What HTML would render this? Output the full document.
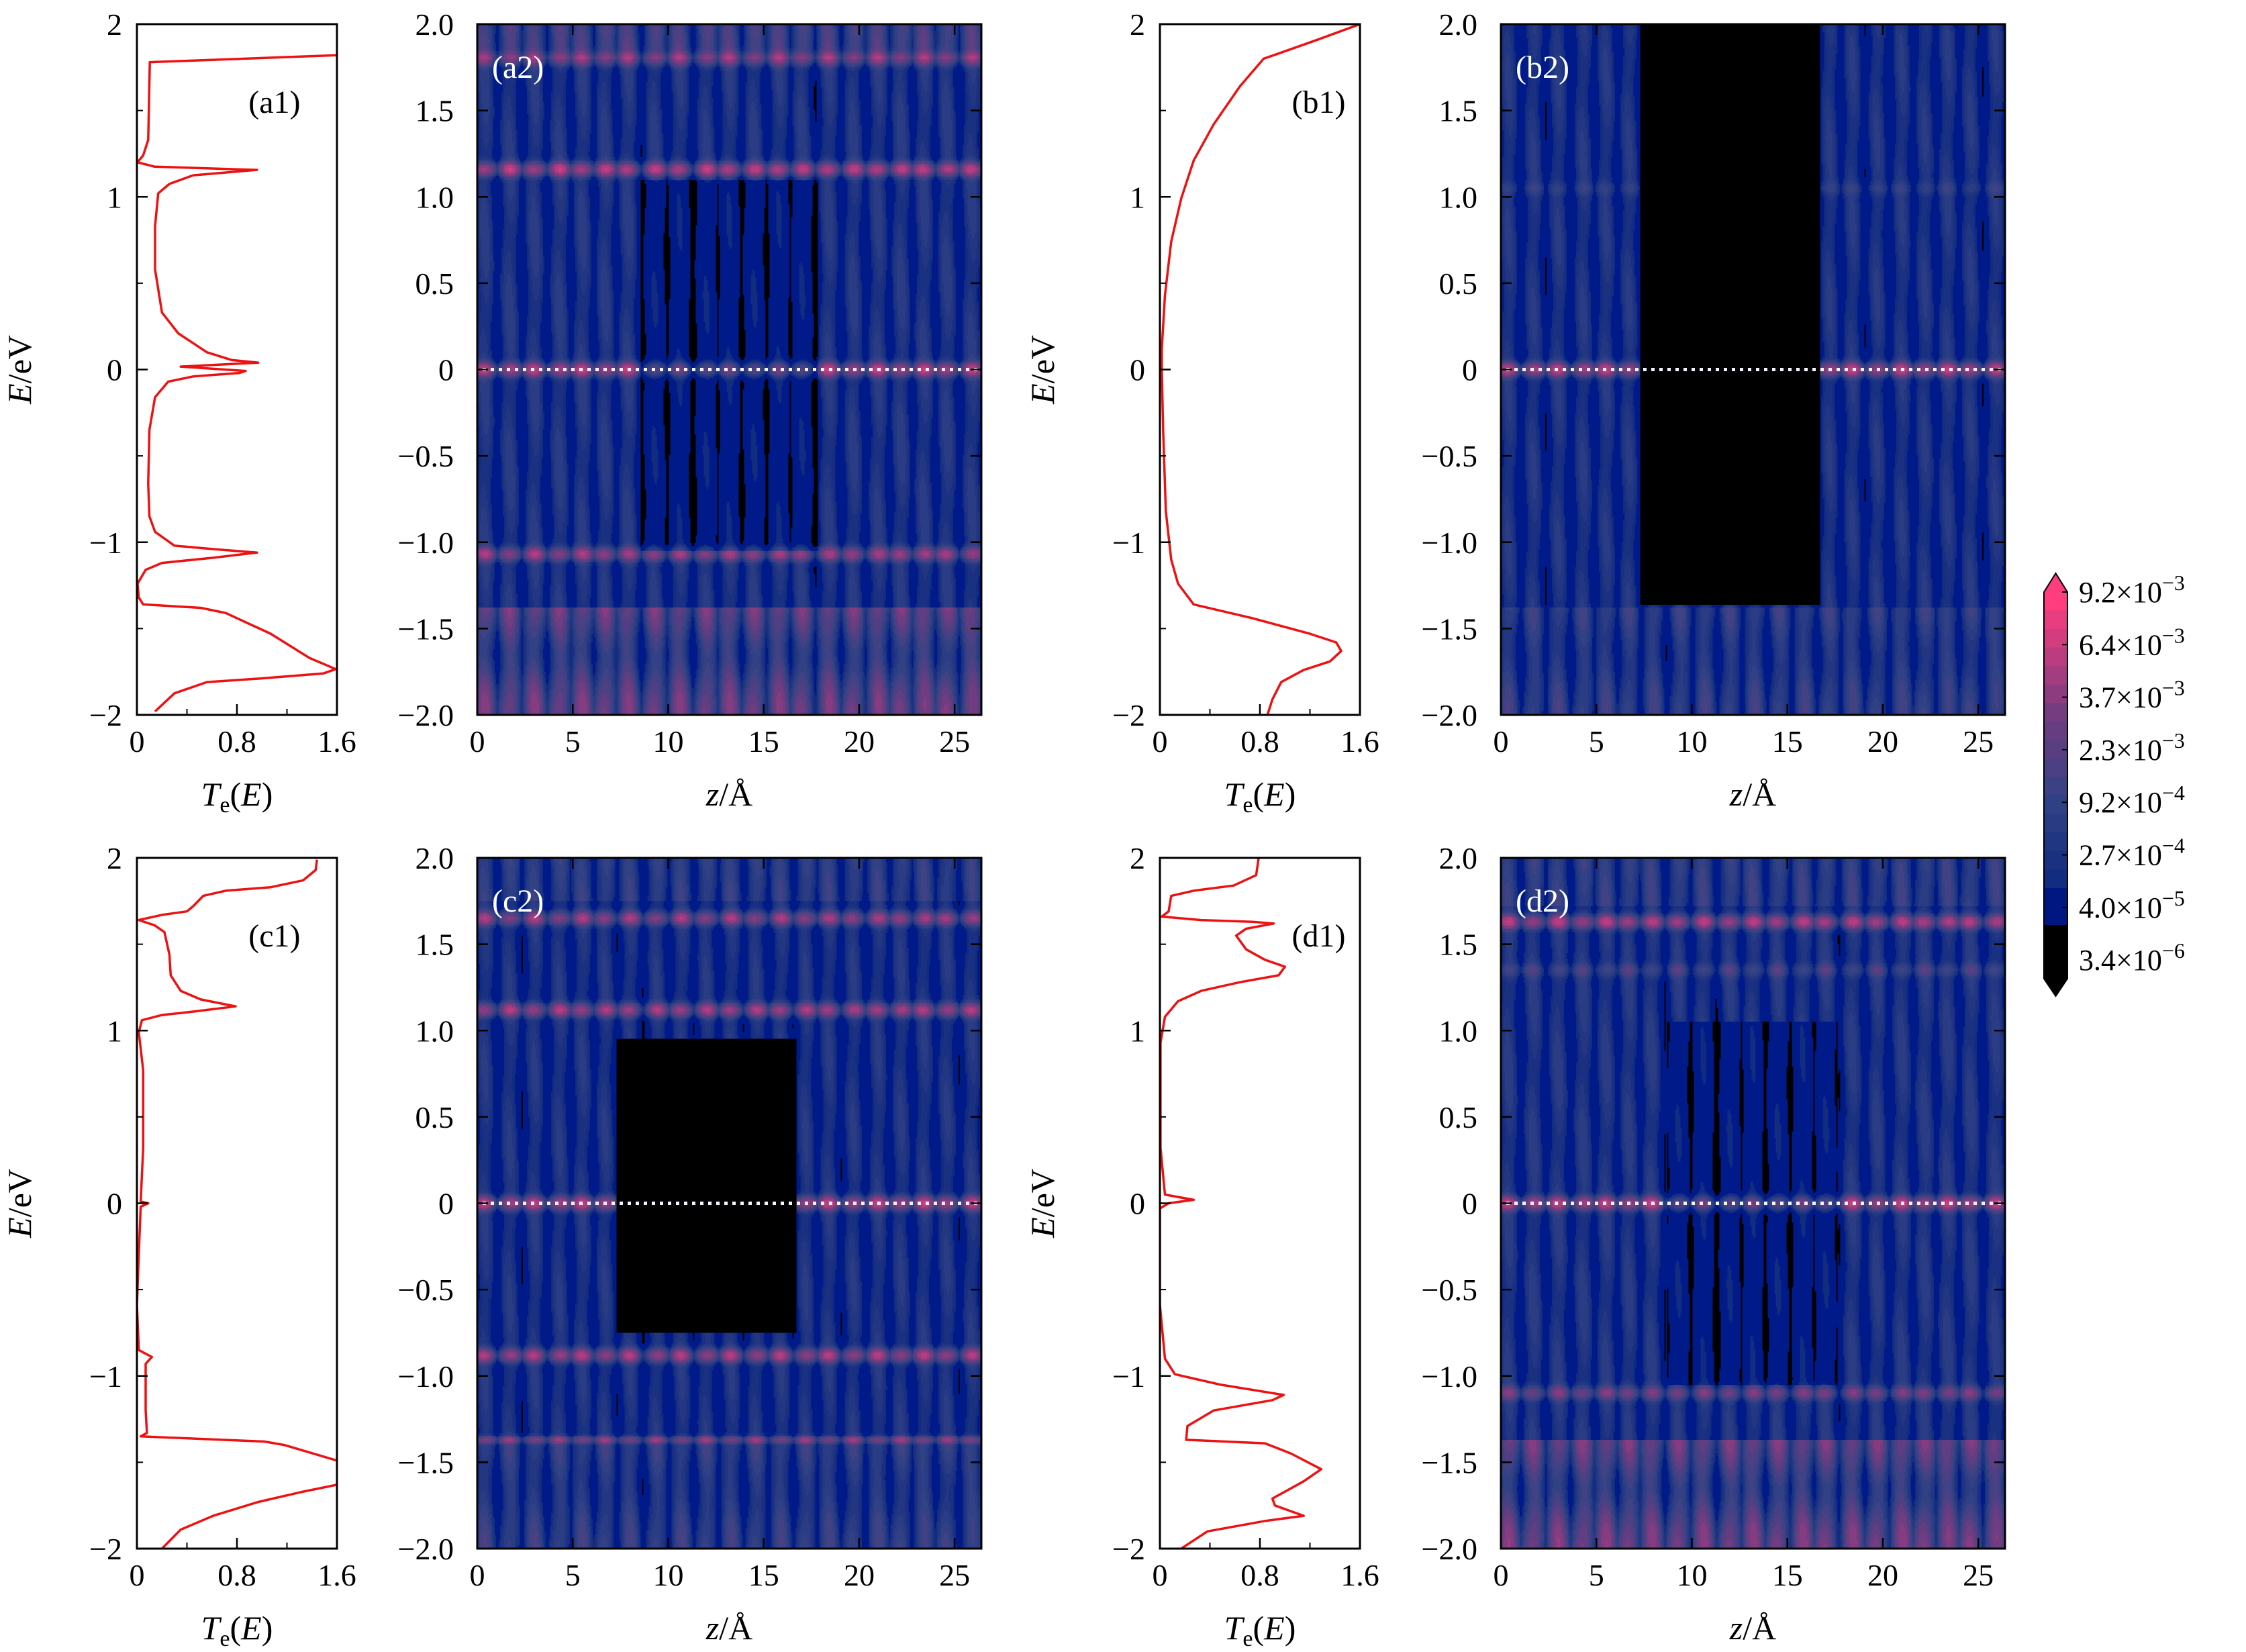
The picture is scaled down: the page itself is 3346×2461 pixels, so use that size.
<!DOCTYPE html>
<html><head><meta charset="utf-8">
<style>
body{margin:0;background:#fff;}
#root{position:relative;width:3346px;height:2461px;overflow:hidden;background:#fff;}
canvas{position:absolute;}
svg{position:absolute;left:0;top:0;}
text{font-family:"Liberation Serif",serif;fill:#000;}
</style></head>
<body>
<div id="root">
<canvas id="hm-a"></canvas>
<canvas id="hm-b"></canvas>
<canvas id="hm-c"></canvas>
<canvas id="hm-d"></canvas>
<svg id="ov" width="3346" height="2461"></svg>
</div>
<script>
// ---------- transmission curves (T, E) ----------
const curveA_T=[1.6,.103,.09,.05,.005,.14,.96,.45,.26,.17,.145,.145,.2,.33,.56,.76,.97,.35,.87,.82,.45,.25,.145,.1,.09,.1,.145,.3,.61,.96,.61,.2,.07,.005,.015,.05,.51,.71,1.07,1.38,1.59,1.49,.97,.56,.3,.145];
const curveA_E=[1.82,1.78,1.33,1.24,1.2,1.175,1.156,1.125,1.075,1.02,.83,.58,.33,.21,.1,.055,.04,.017,-.008,-.02,-.04,-.07,-.16,-.35,-.66,-.85,-.94,-1.02,-1.04,-1.06,-1.09,-1.12,-1.16,-1.24,-1.32,-1.36,-1.38,-1.41,-1.53,-1.67,-1.735,-1.76,-1.79,-1.81,-1.875,-1.98];
const curveB_T=[1.6,1.26,.95,.83,.64,.43,.27,.17,.09,.04,.015,.015,.026,.047,.09,.145,.27,.74,1.2,1.41,1.45,1.36,1.15,.97,.9,.86];
const curveB_E=[2.0,1.91,1.83,1.8,1.64,1.42,1.21,.99,.74,.43,.12,0,-.35,-.82,-1.1,-1.24,-1.36,-1.44,-1.53,-1.58,-1.63,-1.69,-1.74,-1.81,-1.91,-2.0];
const curveC_T=[1.44,1.43,1.33,1.07,.71,.53,.45,.4,.2,.015,.14,.22,.26,.27,.35,.51,.79,.45,.2,.04,.015,.05,.05,.03,.09,.03,.015,0,.015,.12,.07,.07,.08,.03,1.02,1.18,1.6,1.8,1.6,1.33,.97,.61,.35,.2];
const curveC_E=[1.99,1.93,1.87,1.83,1.81,1.78,1.72,1.69,1.67,1.64,1.61,1.57,1.44,1.32,1.23,1.18,1.14,1.11,1.09,1.06,.99,.77,.32,.01,0,-.02,-.29,-.59,-.85,-.89,-.93,-1.2,-1.33,-1.35,-1.38,-1.4,-1.49,-1.56,-1.63,-1.67,-1.73,-1.81,-1.89,-2.0];
const curveD_T=[.79,.77,.59,.27,.09,.07,.015,.33,.74,.91,.69,.61,.69,.84,1.0,.95,.64,.33,.145,.04,.005,.005,.04,.27,.07,0,0,.04,.12,.48,.99,.9,.43,.22,.21,.84,1.05,1.29,1.15,.9,.92,1.15,.84,.38,.17];
const curveD_E=[2.0,1.9,1.84,1.81,1.78,1.69,1.66,1.64,1.63,1.62,1.59,1.55,1.47,1.41,1.37,1.32,1.28,1.23,1.17,1.08,.93,.32,.05,.02,0,-.03,-.59,-.9,-.99,-1.05,-1.11,-1.14,-1.2,-1.29,-1.37,-1.39,-1.45,-1.54,-1.61,-1.71,-1.75,-1.81,-1.84,-1.9,-2.0];

// ---------- LDOS heatmap model data ----------
const stripesA=[0.4,1.7,3.0,4.3,5.5,6.7,7.9,9.3,10.6,12.0,13.2,14.5,15.8,17.0,18.4,19.7,21.0,22.2,23.4,24.6,25.9];
const stripesB=[0.4,1.7,3.0,4.3,5.5,6.7,8.0,9.4,10.7,12.0,13.3,14.6,15.9,17.2,18.4,19.7,21.0,22.2,23.4,24.6,25.9];
const stripesC=[0.4,1.7,3.0,4.3,5.5,6.7,8.0,9.4,10.7,12.0,13.3,14.6,15.9,17.2,18.4,19.7,21.0,22.2,23.4,24.6,25.9];
const stripesD=[0.4,1.7,3.0,4.3,5.5,6.7,7.9,9.3,10.6,12.0,13.2,14.5,15.8,17.0,18.4,19.7,21.0,22.2,23.4,24.6,25.9];
const bandsA_E=[1.8,1.16,0.0,-1.07];   const bandsA_A=[0.35,0.6,0.6,0.45];
const bandsB_E=[0.0,1.05];             const bandsB_A=[0.6,0.06];
const bandsC_E=[1.65,1.12,0.0,-0.88,-1.37]; const bandsC_A=[0.45,0.5,0.6,0.5,0.4];
const bandsD_E=[1.63,1.35,0.0,-1.1];   const bandsD_A=[0.55,0.12,0.6,0.3];
// [contLoEdge, contLoAmp, contHiEdge, contHiAmp, base]
const levelsA=[-1.38,0.3,1.8,0.12,0.1];
const levelsB=[-1.38,0.08,2.5,0,0.09];
const levelsC=[-1.38,0.08,1.75,0.05,0.09];
const levelsD=[-1.37,0.32,1.72,0.05,0.1];
// barrier [zL,zR,Elo,Ehi,attenuation]
const barrierA=[8.6,17.8,-1.05,1.1,0.45];
const barrierB=[7.3,16.7,-1.36,2.0,0.015];
const barrierC=[7.3,16.7,-0.75,0.95,0.015];
const barrierD=[8.7,17.6,-1.05,1.05,0.45];

// colorbar labels
const cbMant=["9.2","6.4","3.7","2.3","9.2","2.7","4.0","3.4"];
const cbExp=["−3","−3","−3","−3","−4","−4","−5","−6"];

// ---------- layout ----------
const colT=[204,1728], colH=[711,2236], rowY=[36,1278];
const TW=298, HW=751, PH=1029, ZMAX=26.4;
const NS="http://www.w3.org/2000/svg";
const ov=document.getElementById('ov');
function el(tag,attrs,parent){const e=document.createElementNS(NS,tag);for(const k in attrs)e.setAttribute(k,attrs[k]);(parent||ov).appendChild(e);return e;}
function yE(y0,E){return y0+(2-E)/4*PH;}
function fmtNum(v,d){const s=Math.abs(v).toFixed(d);return (v<0?"−":"")+s;}

const palStops=[[0,[18,44,128]],[0.3,[52,66,132]],[0.6,[118,60,128]],[1,[255,61,127]]];
function pal(t){for(let i=1;i<palStops.length;i++){if(t<=palStops[i][0]){const a=palStops[i-1],b=palStops[i];const f=(t-a[0])/(b[0]-a[0]);return a[1].map((c,j)=>Math.round(c+(b[1][j]-c)*f));}}return palStops[palStops.length-1][1];}

function drawHeat(id,x0,y0,stripes,bE,bA,lev,bar){
  const cv=document.getElementById(id);
  const W=Math.round(HW/2),H=Math.round(PH/2);
  cv.width=W;cv.height=H;cv.style.left=x0+'px';cv.style.top=y0+'px';cv.style.width=HW+'px';cv.style.height=PH+'px';
  cv.style.imageRendering='pixelated';
  const ctx=cv.getContext('2d');const img=ctx.createImageData(W,H);
  const sz=[],zz=[];
  for(let i=0;i<W;i++){const z=(i+0.5)/W*ZMAX;zz.push(z);let m=0;for(const s of stripes){const v=Math.exp(-Math.pow((z-s)/0.5,2));if(v>m)m=v;}sz.push(m);}
  const lo=Math.log(0.04);
  for(let j=0;j<H;j++){
    const E=2-(j+0.5)/H*4;
    let e=lev[4];
    for(let k=0;k<bE.length;k++){const w=(Math.abs(bE[k]+1.37)<0.02)?0.018:0.035;e+=bA[k]*Math.exp(-Math.pow((E-bE[k])/w,2));}
    if(E<lev[0])e+=lev[1]*(0.6+0.4*Math.cos((E+2)*9));
    if(E>lev[2])e+=lev[3];
    for(let i=0;i<W;i++){
      let v=sz[i]*e*(0.8+0.2*Math.cos(E*7+zz[i]*2.4));
      const z=zz[i];
      if(z>bar[0]&&z<bar[1]&&E>bar[2]&&E<bar[3])v*=bar[4];
      let r,g,b;
      if(v<0.011){r=0;g=0;b=0;}
      else if(v<0.04){r=0;g=26;b=138;}
      else{let t=(Math.log(v)-lo)/(0-lo);t=Math.min(1,Math.max(0,t));t=Math.floor(t*14)/14;[r,g,b]=pal(t);}
      const p=(j*W+i)*4;img.data[p]=r;img.data[p+1]=g;img.data[p+2]=b;img.data[p+3]=255;
    }
  }
  ctx.putImageData(img,0,0);
}

function tPanel(x0,y0,Ts,Es,label,labT,labE,name){
  const g=el('g',{});
  
  
  const clip=el('clipPath',{id:'clip'+name},g);el('rect',{x:x0,y:y0,width:TW,height:PH},clip);
  let d='';for(let i=0;i<Ts.length;i++){const x=x0+Ts[i]/1.6*TW,y=yE(y0,Es[i]);d+=(i?'L':'M')+x.toFixed(1)+' '+y.toFixed(1);}
  const p=el('path',{d:d,fill:'none',stroke:'#ee1111','stroke-width':3.5,'stroke-linejoin':'round','clip-path':'url(#clip'+name+')'},g);
  
  
  el('rect',{x:x0,y:y0,width:TW,height:PH,fill:'none',stroke:'#000','stroke-width':3},g);
  for(let E=-2;E<=2;E++){const y=yE(y0,E);el('line',{x1:x0,y1:y,x2:x0+16,y2:y,stroke:'#000','stroke-width':2.5},g);
    const t=el('text',{x:x0-22,y:y+16,'font-size':46,'text-anchor':'end'},g);t.textContent=E<0?'−'+(-E):String(E);}
  for(const E of [-1.5,-0.5,0.5,1.5]){const y=yE(y0,E);el('line',{x1:x0,y1:y,x2:x0+9,y2:y,stroke:'#000','stroke-width':2},g);}
  const xt=[0,0.8,1.6],xl=["0","0.8","1.6"];
  xt.forEach((v,i)=>{const x=x0+v/1.6*TW;el('line',{x1:x,y1:y0+PH,x2:x,y2:y0+PH-16,stroke:'#000','stroke-width':2.5},g);
    const t=el('text',{x:x,y:y0+PH+55,'font-size':46,'text-anchor':'middle'},g);t.textContent=xl[i];});
  for(const v of [0.4,1.2]){const x=x0+v/1.6*TW;el('line',{x1:x,y1:y0+PH,x2:x,y2:y0+PH-9,stroke:'#000','stroke-width':2},g);}
  const lt=el('text',{x:x0+labT/1.6*TW,y:yE(y0,labE)+16,'font-size':48,'text-anchor':'middle'},g);lt.textContent=label;
  
  
  const xa=el('text',{x:x0+TW/2,y:y0+PH+135,'font-size':50,'text-anchor':'middle'},g);
  
  
  xa.innerHTML='<tspan font-style="italic">T</tspan><tspan font-size="34" dy="10">e</tspan><tspan dy="-10">(</tspan><tspan font-style="italic">E</tspan>)';
  const ya=el('text',{x:0,y:0,'font-size':50,'text-anchor':'middle',transform:`translate(${x0-158},${y0+PH/2}) rotate(-90)`},g);
  
  
  ya.innerHTML='<tspan font-style="italic">E</tspan>/eV';
}

function hPanel(x0,y0,label,name){
  const g=el('g',{});
  
  
  const y=yE(y0,0);
  el('line',{x1:x0+8,y1:y,x2:x0+HW-4,y2:y,stroke:'#f4f4ff','stroke-width':5,'stroke-dasharray':'5 7'},g);
  el('rect',{x:x0,y:y0,width:HW,height:PH,fill:'none',stroke:'#000','stroke-width':3},g);
  for(let k=0;k<=8;k++){const E=-2+k*0.5;const yy=yE(y0,E);
    el('line',{x1:x0,y1:yy,x2:x0+16,y2:yy,stroke:'#000','stroke-width':2.5},g);
    el('line',{x1:x0+HW,y1:yy,x2:x0+HW-16,y2:yy,stroke:'#000','stroke-width':2.5},g);
    const t=el('text',{x:x0-35,y:yy+16,'font-size':46,'text-anchor':'end'},g);t.textContent=E===0?'0':fmtNum(E,1);}
  for(let z=0;z<=25;z+=5){const x=x0+z/ZMAX*HW;
    el('line',{x1:x,y1:y0+PH,x2:x,y2:y0+PH-16,stroke:'#000','stroke-width':2.5},g);
    el('line',{x1:x,y1:y0,x2:x,y2:y0+16,stroke:'#000','stroke-width':2.5},g);
    const t=el('text',{x:x,y:y0+PH+55,'font-size':46,'text-anchor':'middle'},g);t.textContent=String(z);}
  const lt=el('text',{x:x0+22,y:y0+80,'font-size':48,style:'fill:#fff'},g);lt.textContent=label;
  
  
  const xa=el('text',{x:x0+HW/2,y:y0+PH+135,'font-size':50,'text-anchor':'middle'},g);
  
  
  xa.innerHTML='<tspan font-style="italic">z</tspan>/Å';
}

drawHeat('hm-a',colH[0],rowY[0],stripesA,bandsA_E,bandsA_A,levelsA,barrierA);
drawHeat('hm-b',colH[1],rowY[0],stripesB,bandsB_E,bandsB_A,levelsB,barrierB);
drawHeat('hm-c',colH[0],rowY[1],stripesC,bandsC_E,bandsC_A,levelsC,barrierC);
drawHeat('hm-d',colH[1],rowY[1],stripesD,bandsD_E,bandsD_A,levelsD,barrierD);

tPanel(colT[0],rowY[0],curveA_T,curveA_E,'(a1)',1.1,1.55,'panel-a1');
tPanel(colT[1],rowY[0],curveB_T,curveB_E,'(b1)',1.27,1.55,'panel-b1');
tPanel(colT[0],rowY[1],curveC_T,curveC_E,'(c1)',1.1,1.55,'panel-c1');
tPanel(colT[1],rowY[1],curveD_T,curveD_E,'(d1)',1.27,1.55,'panel-d1');
hPanel(colH[0],rowY[0],'(a2)','panel-a2');
hPanel(colH[1],rowY[0],'(b2)','panel-b2');
hPanel(colH[0],rowY[1],'(c2)','panel-c2');
hPanel(colH[1],rowY[1],'(d2)','panel-d2');

// ---------- colorbar ----------
(function(){
  const g=el('g',{});
  
  
  const x0=3045,x1=3080,yt=882,yb=1458,ybk=1378;
  el('polygon',{points:`${x0},${yt} ${(x0+x1)/2},854 ${x1},${yt}`,fill:'#fd3d7e'},g);
  el('polygon',{points:`${x0},${yb} ${(x0+x1)/2},1484 ${x1},${yb}`,fill:'#000'},g);
  const n=18;
  for(let i=0;i<n;i++){
    const ya=yt+(ybk-yt)*i/n,yb2=yt+(ybk-yt)*(i+1)/n;
    let c;
    if(i>=n-2)c=[0,22,128];else c=pal(1-i/(n-3));
    el('rect',{x:x0,y:ya,width:x1-x0,height:yb2-ya+0.5,fill:`rgb(${c[0]},${c[1]},${c[2]})`},g);
  }
  el('rect',{x:x0,y:ybk,width:x1-x0,height:yb-ybk,fill:'#000'},g);
  el('polygon',{points:`${x0},${yt} ${(x0+x1)/2},854 ${x1},${yt} ${x1},${yb} ${(x0+x1)/2},1484 ${x0},${yb}`,fill:'none',stroke:'#000','stroke-width':2},g);
  for(let i=0;i<cbMant.length;i++){
    const y=yt+i*78.3;
    el('line',{x1:x1-8,y1:y,x2:x1,y2:y,stroke:'#000','stroke-width':2},g);
    const t=el('text',{x:3097,y:y+15,'font-size':44},g);
    
    
    t.innerHTML=cbMant[i]+'×10<tspan font-size="32" dy="-18">'+cbExp[i]+'</tspan>';
  }
})();
</script>
</body></html>
